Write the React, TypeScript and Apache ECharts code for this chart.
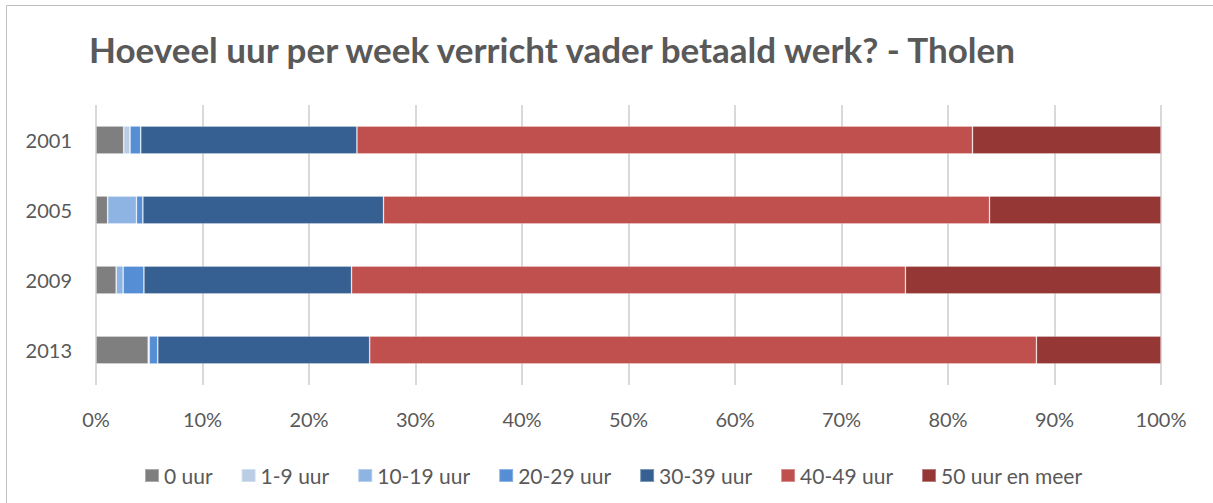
import React, { useEffect, useRef } from "react";
import * as echarts from "echarts";

const years = ["2001", "2005", "2009", "2013"];
const seriesNames = ["0 uur", "1-9 uur", "10-19 uur", "20-29 uur", "30-39 uur", "40-49 uur", "50 uur en meer"];
const uur0 = [2.6, 1.1, 1.9, 4.9];
const uur1_9 = [0.6, 0, 0, 0.1];
const uur10_19 = [0, 2.7, 0.65, 0];
const uur20_29 = [1.0, 0.6, 1.95, 0.8];
const uur30_39 = [20.3, 22.6, 19.5, 19.9];
const uur40_49 = [57.8, 56.9, 52.0, 62.6];
const uur50plus = [17.7, 16.1, 24.0, 11.7];
const xTicks = [0, 10, 20, 30, 40, 50, 60, 70, 80, 90, 100];
const colors = ["#7F7F7F", "#B9CDE5", "#8EB4E3", "#558ED5", "#376092", "#C0504D", "#953735"];
const title = "Hoeveel uur per week verricht vader betaald werk? - Tholen";

const allValues = [uur0, uur1_9, uur10_19, uur20_29, uur30_39, uur40_49, uur50plus];

export default function App() {
  const ref = useRef<HTMLDivElement>(null);
  useEffect(() => {
    if (!ref.current) return;
    const chart = echarts.init(ref.current, undefined, { renderer: "svg" });
    const font = "Lato, 'Open Sans', sans-serif";
    chart.setOption({
      animation: false,
      backgroundColor: "#ffffff",
      title: {
        text: title,
        left: 84,
        top: 26,
        textStyle: { fontFamily: font, fontSize: 35, fontWeight: "bold", color: "#595959" },
      },
      graphic: [
        {
          type: "rect",
          shape: { x: 6.5, y: 5.5, width: 1212, height: 502 },
          style: { fill: "none", stroke: "#BFBFBF", lineWidth: 1 },
          silent: true,
        },
      ],
      legend: {
        left: 139,
        top: 460,
        itemWidth: 14,
        itemHeight: 13,
        itemGap: 28,
        icon: "rect",
        textStyle: { fontFamily: font, fontSize: 21, color: "#595959" },
        data: seriesNames,
      },
      grid: { left: 96, right: 52, top: 105, bottom: 118, containLabel: false },
      xAxis: {
        type: "value",
        min: xTicks[0],
        max: xTicks[xTicks.length - 1],
        interval: 10,
        axisLine: { show: false },
        axisTick: { show: false },
        splitLine: { show: true, lineStyle: { color: "#D9D9D9", width: 2 } },
        axisLabel: {
          formatter: "{value}%",
          fontFamily: font,
          fontSize: 20,
          color: "#595959",
          margin: 24,
        },
      },
      yAxis: {
        type: "category",
        data: years,
        inverse: true,
        axisLine: { show: false },
        axisTick: { show: false },
        axisLabel: { fontFamily: font, fontSize: 20, color: "#595959", margin: 24 },
      },
      series: seriesNames.map((name, i) => ({
        name,
        type: "bar",
        stack: "total",
        barWidth: 28,
        data: allValues[i],
        itemStyle: { color: colors[i], borderColor: "rgba(255,255,255,0.35)", borderWidth: 0.8 },
      })),
    });
    return () => chart.dispose();
  }, []);
  return (
    <div
      ref={ref}
      style={{ position: "fixed", left: 0, top: 0, width: 1213, height: 503 }}
    />
  );
}
